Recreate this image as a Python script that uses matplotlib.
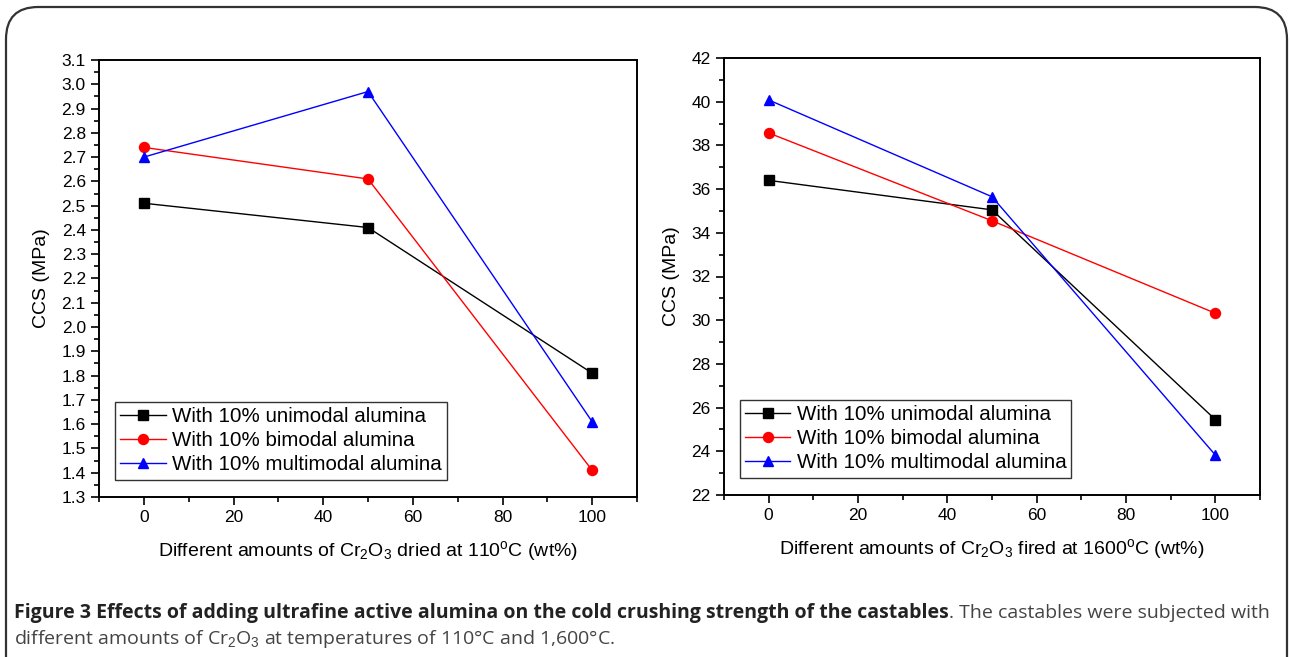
import matplotlib
matplotlib.use("Agg")
import matplotlib.pyplot as plt
from matplotlib import font_manager
from matplotlib.patches import FancyBboxPatch
from matplotlib.ticker import MultipleLocator

# ---- data ----
x_amounts = [0, 50, 100]
left_unimodal = [2.51, 2.41, 1.81]
left_bimodal = [2.74, 2.61, 1.41]
left_multimodal = [2.70, 2.97, 1.61]
right_unimodal = [36.4, 35.05, 25.45]
right_bimodal = [38.57, 34.55, 30.32]
right_multimodal = [40.08, 35.65, 23.83]
series_labels = ["With 10% unimodal alumina", "With 10% bimodal alumina",
                 "With 10% multimodal alumina"]

names = {f.name for f in font_manager.fontManager.ttflist}
base = "Liberation Sans" if "Liberation Sans" in names else "DejaVu Sans"
narrow = "Liberation Sans Narrow" if "Liberation Sans Narrow" in names else "Open Sans"
plt.rcParams['font.family'] = [base, 'DejaVu Sans']
plt.rcParams['mathtext.fontset'] = 'custom'
plt.rcParams['mathtext.rm'] = base
plt.rcParams['mathtext.it'] = base
plt.rcParams['mathtext.bf'] = base

W, H = 1290, 657
fig = plt.figure(figsize=(W / 100, H / 100), dpi=100)

# rounded border
border = FancyBboxPatch((6 / W, -0.2), (1281) / W, 1.2 - 7 / H,
                        boxstyle="round,pad=0,rounding_size=0.025",
                        transform=fig.transFigure, fill=False,
                        edgecolor="#333333", linewidth=1.6,
                        mutation_aspect=W / H)
fig.patches.append(border)

def make_axes(rect, ydata, ylim, ymaj, ymin, xlabel):
    ax = fig.add_axes(rect)
    styles = [("black", "s"), ("red", "o"), ("blue", "^")]
    for (c, m), ys, lab in zip(styles, ydata, series_labels):
        ax.plot(x_amounts, ys, color=c, marker=m, markersize=7.2, linewidth=1.0,
                label=lab, clip_on=False)
    ax.set_xlim(-10, 110)
    ax.set_ylim(*ylim)
    ax.xaxis.set_major_locator(MultipleLocator(20))
    ax.xaxis.set_minor_locator(MultipleLocator(10))
    ax.yaxis.set_major_locator(MultipleLocator(ymaj))
    ax.yaxis.set_minor_locator(MultipleLocator(ymin))
    ax.tick_params(which="both", direction="out", top=False, right=False,
                   width=1.2, labelsize=12.5)
    ax.tick_params(which="major", length=6)
    ax.tick_params(which="minor", length=3.5)
    for s in ax.spines.values():
        s.set_linewidth(1.4)
    ax.set_ylabel("CCS (MPa)", fontsize=14, labelpad=8)
    ax.set_xlabel(xlabel, fontsize=14, labelpad=10)
    leg = ax.legend(loc="lower left", bbox_to_anchor=(0.03, 0.04), fontsize=14.8,
                    frameon=True, fancybox=False, edgecolor="black",
                    handlelength=2.2, handletextpad=0.3, borderpad=0.25,
                    labelspacing=0.25, borderaxespad=0)
    leg.get_frame().set_linewidth(1.0)
    return ax

axL = make_axes([99 / W, 1 - 497 / H, 538 / W, 437 / H],
                [left_unimodal, left_bimodal, left_multimodal],
                (1.3, 3.1), 0.1, 0.05,
                r"Different amounts of Cr$_2$O$_3$ dried at 110$^{\rm o}$C (wt%)")
axL.yaxis.set_major_formatter(matplotlib.ticker.FormatStrFormatter("%.1f"))
axR = make_axes([724 / W, 1 - 495 / H, 536 / W, 437 / H],
                [right_unimodal, right_bimodal, right_multimodal],
                (22, 42), 2, 1,
                r"Different amounts of Cr$_2$O$_3$ fired at 1600$^{\rm o}$C (wt%)")

# caption
fig.canvas.draw()
r = fig.canvas.get_renderer()
cap_fs = 14.0
t1 = fig.text(14 / W, 1 - 613 / H,
              "Figure 3 Effects of adding ultrafine active alumina on the cold crushing strength of the castables",
              fontsize=cap_fs, fontweight="bold", family=[narrow, "DejaVu Sans"],
              color="#222222", va="center", ha="left")
bb = t1.get_window_extent(r)
fig.text(bb.x1 / W, 1 - 613 / H, ". The castables were subjected with",
         fontsize=cap_fs, family=[narrow, "DejaVu Sans"], color="#444444",
         va="center", ha="left")
fig.text(14 / W, 1 - 639 / H,
         r"different amounts of Cr$_2$O$_3$ at temperatures of 110°C and 1,600°C.",
         fontsize=cap_fs, family=[narrow, "DejaVu Sans"], color="#444444",
         va="center", ha="left")

fig.savefig("out.png", dpi=100)
